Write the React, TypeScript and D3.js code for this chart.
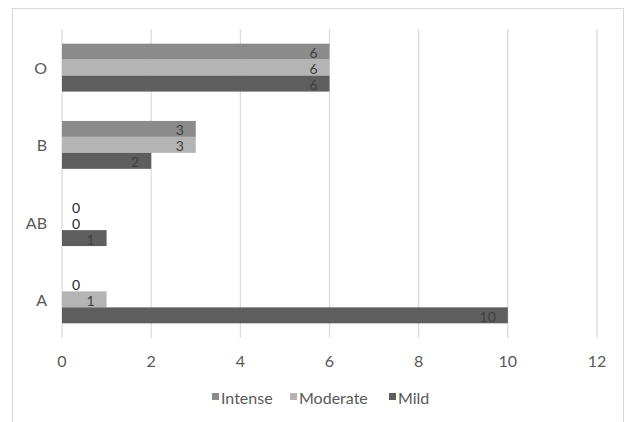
import React from "react";
import * as d3 from "d3";

const categories = ["A", "AB", "B", "O"];
const seriesNames = ["Intense", "Moderate", "Mild"];
const intense = [0, 0, 3, 6];
const moderate = [1, 0, 3, 6];
const mild = [10, 1, 2, 6];
const xTicks = [0, 2, 4, 6, 8, 10, 12];

const colors: Record<string, string> = {
  Intense: "#8b8b8b",
  Moderate: "#b4b4b4",
  Mild: "#5e5e5e",
};

const W = 626;
const H = 422;
const FONT = "Lato, 'Open Sans', sans-serif";

export default function App() {
  const values: Record<string, number[]> = { Intense: intense, Moderate: moderate, Mild: mild };
  const x = d3.scaleLinear().domain([0, 12]).range([62, 597]);
  const y = d3
    .scaleBand<string>()
    .domain(categories)
    .range([338, 29])
    .paddingInner(0.38)
    .paddingOuter(0.19);
  const inner = d3.scaleBand<string>().domain(seriesNames).range([0, y.bandwidth()]);

  const legendItems = [
    { name: "Intense", sx: 212, tx: 221 },
    { name: "Moderate", sx: 290, tx: 299 },
    { name: "Mild", sx: 389, tx: 398 },
  ];

  return (
    <svg
      width={W}
      height={H}
      style={{ position: "absolute", left: 0, top: 0, background: "#fff" }}
      fontFamily={FONT}
    >
      <rect x={0} y={0} width={W} height={H} fill="#fff" />
      <rect x={12.5} y={8.5} width={611} height={440} fill="#fff" stroke="#d9d9d9" strokeWidth={1} />
      {xTicks.map((t) => (
        <g key={t}>
          <line x1={x(t)} x2={x(t)} y1={29} y2={338} stroke="#d9d9d9" strokeWidth={1.2} />
          <text x={x(t)} y={360} textAnchor="middle" dominantBaseline="central" fontSize={16} fill="#595959">
            {t}
          </text>
        </g>
      ))}
      {categories.map((c) => (
        <text
          key={c}
          x={47}
          y={(y(c) as number) + y.bandwidth() / 2}
          textAnchor="end"
          dominantBaseline="central"
          fontSize={16}
          fill="#595959"
        >
          {c}
        </text>
      ))}
      {categories.map((c, ci) =>
        seriesNames.map((s) => {
          const v = values[s][ci];
          const by = (y(c) as number) + (inner(s) as number);
          const bh = inner.bandwidth();
          return (
            <g key={c + s}>
              {v > 0 && (
                <rect x={x(0)} y={by} width={x(v) - x(0)} height={bh} fill={colors[s]} />
              )}
              {v > 0 ? (
                <text
                  x={x(v) - 12}
                  y={by + bh / 2 + 1}
                  textAnchor="end"
                  dominantBaseline="central"
                  fontSize={14}
                  fill="#404040"
                >
                  {v}
                </text>
              ) : (
                <text
                  x={x(0) + 10}
                  y={by + bh / 2 + 1}
                  textAnchor="start"
                  dominantBaseline="central"
                  fontSize={14}
                  fill="#262626"
                >
                  {v}
                </text>
              )}
            </g>
          );
        })
      )}
      {legendItems.map((l) => (
        <g key={l.name}>
          <rect x={l.sx} y={393} width={7} height={7} fill={colors[l.name]} />
          <text x={l.tx} y={397} dominantBaseline="central" fontSize={16} fill="#595959">
            {l.name}
          </text>
        </g>
      ))}
    </svg>
  );
}
